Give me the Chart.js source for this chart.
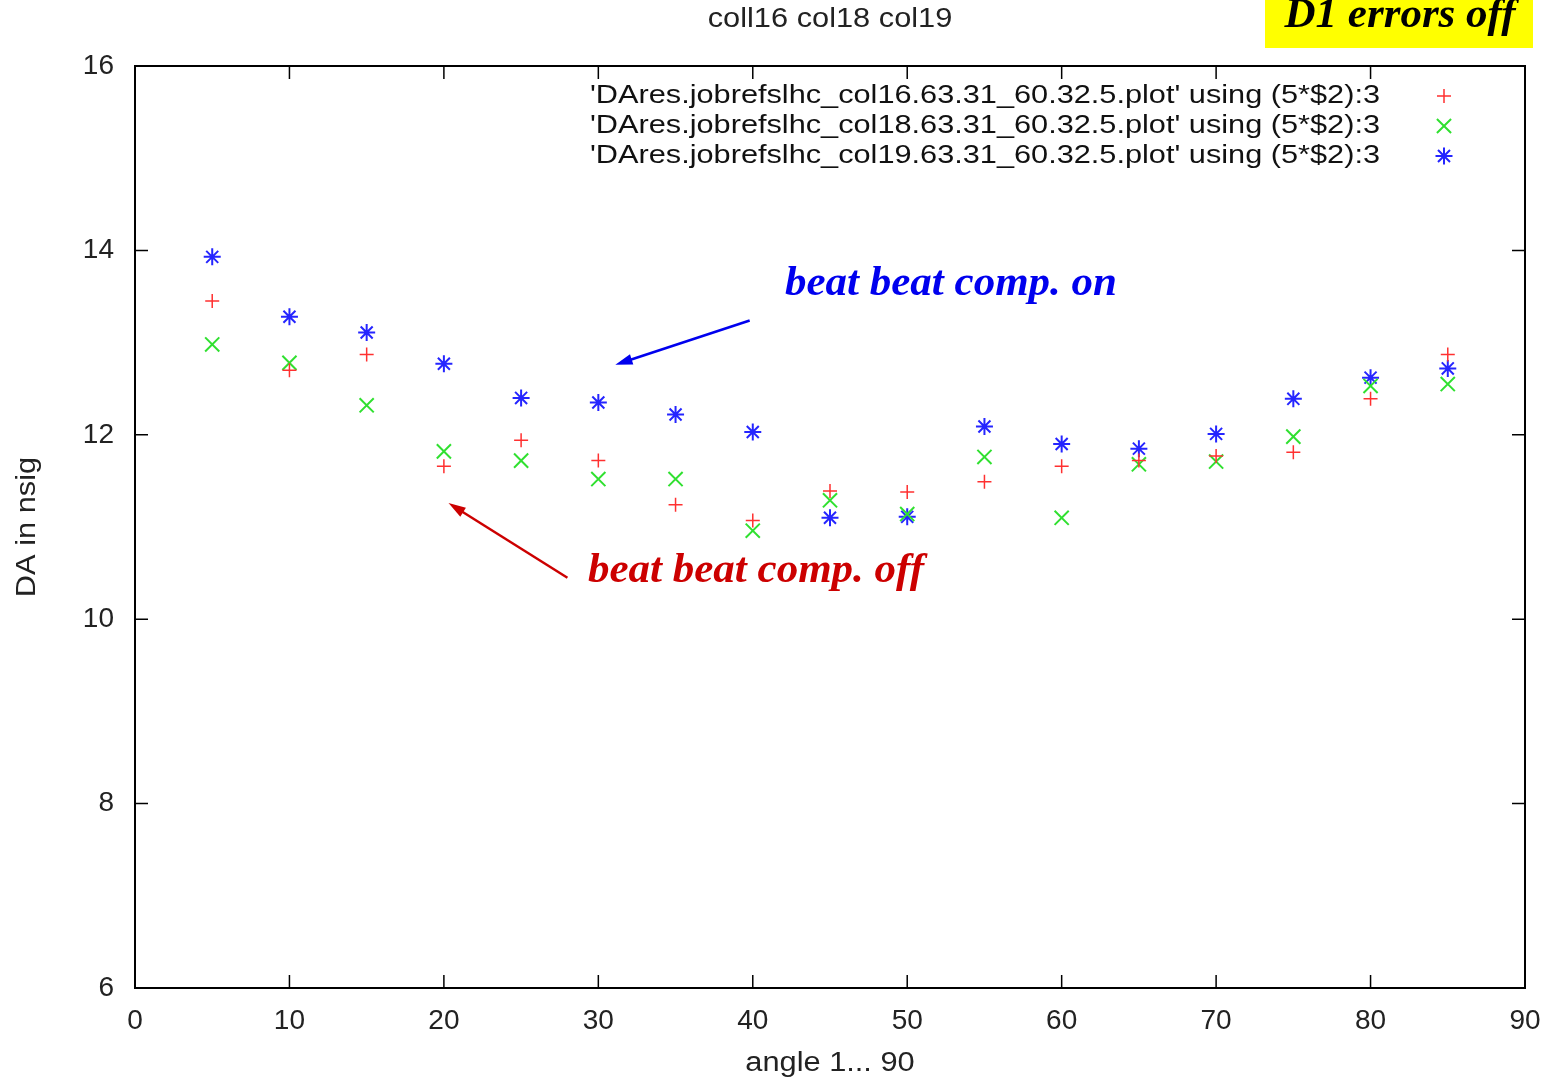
<!DOCTYPE html>
<html>
<head>
<meta charset="utf-8">
<script src="https://cdn.jsdelivr.net/npm/chart.js@4.4.1/dist/chart.umd.min.js"></script>
<style>
  html, body { margin: 0; padding: 0; background: #fff; }
  #wrap { width: 1556px; height: 1084px; position: relative; }
</style>
</head>
<body>
<div id="wrap"><canvas id="daChart" width="1556" height="1084"></canvas></div>
<script>
// angle values (5*$2)
const angles = [5, 10, 15, 20, 25, 30, 35, 40, 45, 50, 55, 60, 65, 70, 75, 80, 85];

// DA in nsig
const col16 = [13.45, 12.70, 12.87, 11.66, 11.94, 11.72, 11.24, 11.07, 11.39, 11.38, 11.49, 11.66, 11.72, 11.77, 11.81, 12.39, 12.87];
const col18 = [12.98, 12.78, 12.32, 11.82, 11.72, 11.52, 11.52, 10.96, 11.29, 11.14, 11.76, 11.10, 11.68, 11.71, 11.98, 12.53, 12.55];
const col19 = [13.93, 13.28, 13.11, 12.77, 12.40, 12.35, 12.22, 12.03, 11.10, 11.11, 12.09, 11.90, 11.85, 12.01, 12.39, 12.62, 12.72];

const legendLabels = [
  "'DAres.jobrefslhc_col16.63.31_60.32.5.plot' using (5*$2):3",
  "'DAres.jobrefslhc_col18.63.31_60.32.5.plot' using (5*$2):3",
  "'DAres.jobrefslhc_col19.63.31_60.32.5.plot' using (5*$2):3",
];

const xTicks = [0, 10, 20, 30, 40, 50, 60, 70, 80, 90];
const yTicks = [6, 8, 10, 12, 14, 16];

const SANS = '"Liberation Sans", Arial, sans-serif';
const SERIF = '"Liberation Serif", "Times New Roman", serif';
const WIDE = 1.14; // gnuplot's sans font runs wider than Arial

function pts(ys) { return angles.map((a, i) => ({ x: a, y: ys[i] })); }

// text with horizontal stretch, anchored by ctx.textAlign
function wideText(ctx, s, x, y, sx) {
  ctx.save();
  ctx.translate(x, y);
  ctx.scale(sx, 1);
  ctx.fillText(s, 0, 0);
  ctx.restore();
}

// gnuplot-like frame with inward, mirrored ticks + all text overlays
const gnuFrame = {
  id: 'gnuFrame',
  afterDatasetsDraw(chart) {
    const { ctx, chartArea: a, scales } = chart;
    const xs = scales.x, ys = scales.y;
    ctx.save();
    ctx.strokeStyle = '#000';
    ctx.lineWidth = 2;
    ctx.strokeRect(a.left, a.top, a.right - a.left, a.bottom - a.top);

    ctx.beginPath();
    xTicks.forEach(v => {
      const px = xs.getPixelForValue(v);
      ctx.moveTo(px, a.bottom); ctx.lineTo(px, a.bottom - 13);
      ctx.moveTo(px, a.top);    ctx.lineTo(px, a.top + 13);
    });
    yTicks.forEach(v => {
      const py = ys.getPixelForValue(v);
      ctx.moveTo(a.left, py);  ctx.lineTo(a.left + 13, py);
      ctx.moveTo(a.right, py); ctx.lineTo(a.right - 13, py);
    });
    ctx.lineWidth = 1.5;
    ctx.stroke();

    // legend (inside, top right)
    ctx.font = '26px ' + SANS;
    ctx.fillStyle = '#111';
    ctx.textAlign = 'right';
    ctx.textBaseline = 'middle';
    chart.data.datasets.forEach((ds, i) => {
      const ly = a.top + 30 + i * 30;
      const w = ctx.measureText(legendLabels[i]).width;
      wideText(ctx, legendLabels[i], a.right - 145, ly, 790 / w);
      ctx.strokeStyle = ds.borderColor;
      ctx.fillStyle = ds.borderColor;
      ctx.lineWidth = ds.borderWidth;
      Chart.helpers.drawPoint(ctx, { pointStyle: ds.pointStyle, radius: ds.pointRadius, borderWidth: ds.borderWidth }, a.right - 81, ly);
      ctx.fillStyle = '#111';
    });

    // annotation arrows (data coordinates)
    arrow(ctx, xs, ys, 39.8, 13.24, 31.1, 12.76, '#0000ee');
    arrow(ctx, xs, ys, 28.0, 10.45, 20.3, 11.26, '#cc0000');

    ctx.textAlign = 'left';
    ctx.font = 'bold italic 43px ' + SERIF;
    ctx.fillStyle = '#0000ee';
    ctx.fillText('beat beat comp. on', 785, 284);
    ctx.fillStyle = '#cc0000';
    ctx.fillText('beat beat comp. off', 588, 571);

    // title + axis titles
    ctx.fillStyle = '#222';
    ctx.font = '27px ' + SANS;
    ctx.textAlign = 'center';
    wideText(ctx, 'coll16 col18 col19', (a.left + a.right) / 2, 20, WIDE);
    wideText(ctx, 'angle 1... 90', (a.left + a.right) / 2, 1064, WIDE);
    ctx.save();
    ctx.translate(28, 527);
    ctx.rotate(-Math.PI / 2);
    wideText(ctx, 'DA in nsig', 0, 0, WIDE);
    ctx.restore();

    // yellow label box
    ctx.fillStyle = '#ffff00';
    ctx.fillRect(1265, 0, 268, 48);
    ctx.fillStyle = '#000';
    ctx.font = 'bold italic 43px ' + SERIF;
    ctx.fillText('D1 errors off', 1400, 16);
    ctx.restore();
  }
};

function arrow(ctx, xs, ys, x0, y0, x1, y1, color) {
  const ax = xs.getPixelForValue(x0), ay = ys.getPixelForValue(y0);
  const bx = xs.getPixelForValue(x1), by = ys.getPixelForValue(y1);
  const ang = Math.atan2(by - ay, bx - ax);
  const hl = 18, hw = 0.3;
  ctx.strokeStyle = color;
  ctx.fillStyle = color;
  ctx.lineWidth = 2.5;
  ctx.beginPath();
  ctx.moveTo(ax, ay);
  ctx.lineTo(bx - Math.cos(ang) * hl * 0.8, by - Math.sin(ang) * hl * 0.8);
  ctx.stroke();
  ctx.beginPath();
  ctx.moveTo(bx, by);
  ctx.lineTo(bx - hl * Math.cos(ang - hw), by - hl * Math.sin(ang - hw));
  ctx.lineTo(bx - hl * Math.cos(ang + hw), by - hl * Math.sin(ang + hw));
  ctx.closePath();
  ctx.fill();
}

new Chart(document.getElementById('daChart'), {
  type: 'scatter',
  data: {
    datasets: [
      { data: pts(col16), pointStyle: 'cross',    pointRadius: 7,   borderColor: '#ff3030', backgroundColor: '#ff3030', borderWidth: 1.5 },
      { data: pts(col18), pointStyle: 'crossRot', pointRadius: 10,  borderColor: '#30e030', backgroundColor: '#30e030', borderWidth: 2 },
      { data: pts(col19), pointStyle: 'star',     pointRadius: 8.5, borderColor: '#2525ff', backgroundColor: '#2525ff', borderWidth: 2 },
    ],
  },
  options: {
    responsive: false,
    animation: false,
    layout: { padding: { top: 66, right: 31, left: 0, bottom: 0 } },
    plugins: { legend: { display: false }, tooltip: { enabled: false } },
    elements: { point: { hoverRadius: 7 } },
    scales: {
      x: {
        type: 'linear', min: 0, max: 90,
        afterFit: s => { s.height = 96; },
        afterBuildTicks: s => { s.ticks = xTicks.map(v => ({ value: v })); },
        grid: { display: false }, border: { display: false },
        ticks: { color: '#222', padding: 8, maxRotation: 0, font: { size: 28, family: SANS } },
      },
      y: {
        type: 'linear', min: 6, max: 16,
        afterFit: s => { s.width = 135; },
        afterBuildTicks: s => { s.ticks = yTicks.map(v => ({ value: v })); },
        grid: { display: false }, border: { display: false },
        ticks: { color: '#222', padding: 13, font: { size: 28, family: SANS } },
      },
    },
  },
  plugins: [gnuFrame],
});
</script>
</body>
</html>
